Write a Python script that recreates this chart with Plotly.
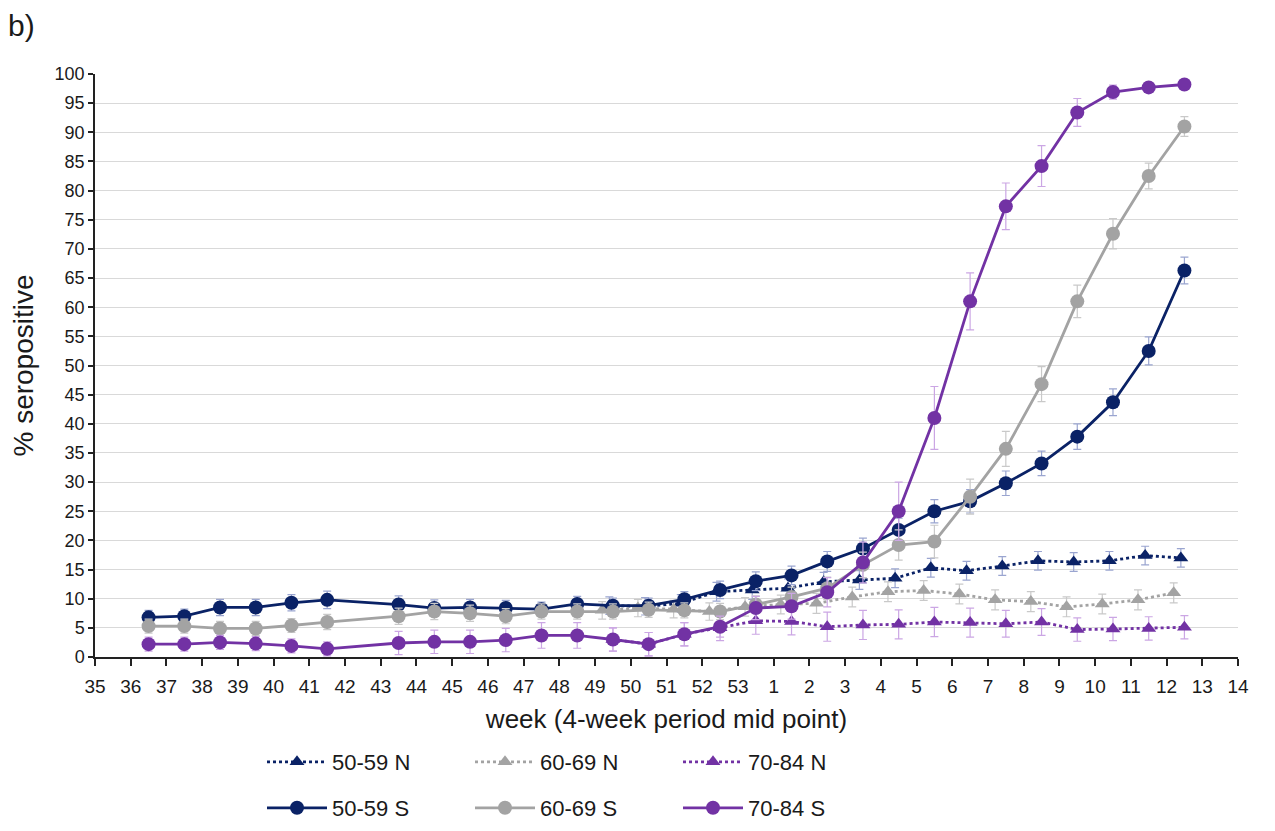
import plotly.graph_objects as go

# ---------------- data ----------------
WEEK_LABELS = list(range(35, 54)) + list(range(1, 15))

S_WEEKS = [36.5, 37.5, 38.5, 39.5, 40.5, 41.5, 43.5, 44.5, 45.5, 46.5, 47.5, 48.5,
           49.5, 50.5, 51.5, 52.5, 53.5, 1.5, 2.5, 3.5, 4.5, 5.5, 6.5, 7.5, 8.5,
           9.5, 10.5, 11.5, 12.5]

s_5059 = [6.8, 7.0, 8.5, 8.5, 9.3, 9.8, 9.0, 8.4, 8.5, 8.4, 8.2, 9.1, 8.8, 8.8,
          9.9, 11.5, 13.0, 14.0, 16.4, 18.6, 21.8, 25.0, 26.7, 29.8, 33.2, 37.8,
          43.7, 52.5, 66.3]
s_5059_err = [1.2, 1.2, 1.4, 1.4, 1.4, 1.5, 1.5, 1.4, 1.4, 1.3, 1.2, 1.3, 1.3, 1.3,
              1.3, 1.5, 1.6, 1.6, 1.7, 1.8, 2.0, 2.0, 2.0, 2.1, 2.1, 2.2, 2.3, 2.4, 2.3]

s_6069 = [5.3, 5.3, 4.9, 4.9, 5.4, 6.0, 7.0, 7.8, 7.5, 7.0, 7.8, 7.8, 7.8, 8.1,
          8.0, 7.8, 9.0, 10.3, 11.8, 15.8, 19.2, 19.8, 27.5, 35.7, 46.8, 61.0,
          72.6, 82.5, 91.0]
s_6069_err = [1.2, 1.2, 1.2, 1.2, 1.2, 1.3, 1.4, 1.4, 1.4, 1.3, 1.3, 1.3, 1.3, 1.3,
              1.3, 1.4, 1.5, 1.7, 1.9, 2.2, 2.6, 2.8, 3.0, 3.0, 3.0, 2.8, 2.6, 2.2, 1.7]

s_7084 = [2.2, 2.2, 2.5, 2.3, 1.9, 1.4, 2.4, 2.6, 2.6, 2.9, 3.7, 3.7, 3.0, 2.2,
          3.9, 5.2, 8.4, 8.7, 11.1, 16.2, 25.0, 41.0, 61.0, 77.3, 84.2, 93.4,
          96.9, 97.7, 98.2]
s_7084_err = [1.2, 1.2, 1.2, 1.2, 1.2, 1.2, 2.0, 2.0, 2.0, 2.0, 2.2, 2.2, 2.0, 2.0,
              2.0, 1.8, 2.0, 2.2, 2.5, 3.5, 5.0, 5.4, 4.9, 4.0, 3.5, 2.4, 1.2, 0.8, 0.6]

N_5059_WEEKS = [49.4, 50.4, 51.4, 52.4, 53.4, 1.4, 2.4, 3.4, 4.4, 5.4, 6.4, 7.4,
                8.4, 9.4, 10.4, 11.4, 12.4]
n_5059 = [8.8, 8.7, 9.2, 11.2, 11.5, 11.8, 12.9, 13.2, 13.5, 15.3, 14.8, 15.6,
          16.5, 16.3, 16.5, 17.4, 17.0]
n_5059_err = [1.5, 1.5, 1.5, 1.6, 1.6, 1.6, 1.6, 1.6, 1.6, 1.6, 1.6, 1.6, 1.6,
              1.6, 1.6, 1.6, 1.6]

N_6069_WEEKS = [49.2, 50.2, 51.2, 52.2, 53.2, 1.2, 2.2, 3.2, 4.2, 5.2, 6.2, 7.2,
                8.2, 9.2, 10.2, 11.2, 12.2]
n_6069 = [8.0, 8.4, 8.2, 7.8, 8.6, 9.0, 9.2, 10.3, 11.2, 11.4, 10.8, 9.8, 9.5,
          8.6, 9.1, 9.8, 11.0]
n_6069_err = [1.5, 1.5, 1.5, 1.5, 1.6, 1.6, 1.7, 1.7, 1.7, 1.7, 1.7, 1.7, 1.7,
              1.7, 1.7, 1.7, 1.7]

N_7084_WEEKS = [49.5, 50.5, 51.5, 52.5, 53.5, 1.5, 2.5, 3.5, 4.5, 5.5, 6.5, 7.5,
                8.5, 9.5, 10.5, 11.5, 12.5]
n_7084 = [3.0, 2.2, 3.9, 5.0, 6.2, 6.1, 5.2, 5.5, 5.6, 6.0, 5.9, 5.7, 6.0, 4.7,
          4.8, 4.9, 5.1]
n_7084_err = [2.0, 2.0, 2.0, 2.2, 2.3, 2.3, 2.5, 2.5, 2.5, 2.5, 2.5, 2.3, 2.3,
              2.0, 2.0, 2.0, 2.0]


def wk_pos(w):
    base = int(w)
    return WEEK_LABELS.index(base) + (w - base)


NAVY = "#0a2266"
GRAY = "#a3a3a3"
PURPLE = "#7232a4"
NAVY_ERR = "#9aa5d0"
GRAY_ERR = "#c9c9c9"
PURPLE_ERR = "#cba6e4"

FONT = "Liberation Sans, Arial, sans-serif"
TXT = "#1a1a1a"

fig = go.Figure()


def add_series(weeks, vals, errs, name, color, ecolor, kind, legend):
    dotted = kind == "N"
    fig.add_trace(go.Scatter(
        x=[wk_pos(w) for w in weeks], y=vals, name=name, legend=legend,
        mode="lines+markers",
        line=dict(color=color, width=2.8, dash="dot" if dotted else "solid"),
        marker=dict(symbol="triangle-up" if dotted else "circle",
                    size=13 if dotted else 14, color=color),
        error_y=dict(type="data", array=errs, visible=True, color=ecolor,
                     thickness=1.2, width=4),
    ))


add_series(N_5059_WEEKS, n_5059, n_5059_err, "50-59 N", NAVY, NAVY_ERR, "N", "legend")
add_series(N_6069_WEEKS, n_6069, n_6069_err, "60-69 N", GRAY, GRAY_ERR, "N", "legend")
add_series(N_7084_WEEKS, n_7084, n_7084_err, "70-84 N", PURPLE, PURPLE_ERR, "N", "legend")
add_series(S_WEEKS, s_5059, s_5059_err, "50-59 S", NAVY, NAVY_ERR, "S", "legend2")
add_series(S_WEEKS, s_6069, s_6069_err, "60-69 S", GRAY, GRAY_ERR, "S", "legend2")
add_series(S_WEEKS, s_7084, s_7084_err, "70-84 S", PURPLE, PURPLE_ERR, "S", "legend2")

# page has an 8px body margin: compensate so the plot sits where the reference has it
OFF = 8
W, H = 1275, 831
PLOT_L, PLOT_R, PLOT_T, PLOT_B = 95, 1238, 74, 657
ML = PLOT_L - OFF
MR = W - (PLOT_R - OFF)
MT = PLOT_T - OFF
MB = H - (PLOT_B - OFF)
PW, PH = PLOT_R - PLOT_L, PLOT_B - PLOT_T


def px_x(px):
    return (px - PLOT_L) / PW


def px_y(py):
    return (PLOT_B - py) / PH


legend_common = dict(
    orientation="h", xanchor="left", yanchor="middle",
    font=dict(family=FONT, size=22, color=TXT),
    itemwidth=60, entrywidth=133, bgcolor="rgba(0,0,0,0)",
    tracegroupgap=0,
)

fig.update_layout(
    width=W, height=H,
    margin=dict(l=ML, r=MR, t=MT, b=MB, autoexpand=False),
    plot_bgcolor="white", paper_bgcolor="white",
    font=dict(family=FONT, size=18, color=TXT),
    xaxis=dict(
        range=[0, len(WEEK_LABELS) - 1],
        tickvals=list(range(len(WEEK_LABELS))),
        ticktext=[str(w) for w in WEEK_LABELS],
        tickfont=dict(family=FONT, size=19, color=TXT),
        ticks="outside", ticklen=7, tickwidth=1.5, tickcolor="#222",
        ticklabelstandoff=4,
        showline=True, linecolor="#222", linewidth=1.5,
        showgrid=False, zeroline=False,
        title=dict(text="week (4-week period mid point)",
                   font=dict(family=FONT, size=26, color=TXT), standoff=14),
    ),
    yaxis=dict(
        range=[0, 100], dtick=5,
        tickfont=dict(family=FONT, size=18, color=TXT),
        ticks="outside", ticklen=5, tickwidth=1.5, tickcolor="#222",
        showline=True, linecolor="#222", linewidth=1.5,
        showgrid=True, gridcolor="#d9d9d9", gridwidth=1.3,
        zeroline=False,
        title=dict(text="% seropositive",
                   font=dict(family=FONT, size=28, color=TXT), standoff=16),
    ),
    legend=dict(x=px_x(262), y=px_y(762), **legend_common),
    legend2=dict(x=px_x(262), y=px_y(808), **legend_common),
    annotations=[dict(
        text="b)", xref="paper", yref="paper", x=px_x(6), y=px_y(26),
        xanchor="left", yanchor="middle", showarrow=False,
        font=dict(family=FONT, size=30, color=TXT),
    )],
)

fig.write_html("out.html")
